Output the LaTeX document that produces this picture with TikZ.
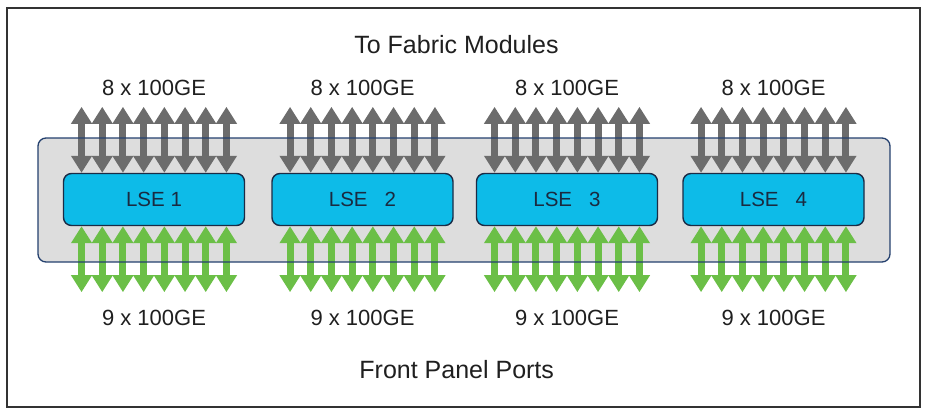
\documentclass[tikz,border=0pt]{standalone}
\usepackage{fontspec}
\setmainfont{Liberation Sans}
\usetikzlibrary{arrows.meta,calc}
\definecolor{framegray}{HTML}{333333}
\definecolor{cardfill}{HTML}{DDDDDD}
\definecolor{cardline}{HTML}{24406E}
\definecolor{lsefill}{HTML}{0DBBE8}
\definecolor{lseline}{HTML}{1B2B45}
\definecolor{lsetext}{HTML}{1A2A40}
\definecolor{arrgray}{HTML}{6C6C6C}
\definecolor{arrgreen}{HTML}{6BBF47}
\tikzset{
  frame/.style={draw=framegray, line width=2pt},
  card/.style={draw=cardline, line width=1.3pt, rounded corners=8pt, minimum width=852pt, minimum height=124pt, inner sep=0pt},
  cardfillonly/.style={fill=cardfill, rounded corners=8pt, minimum width=852pt, minimum height=124pt, inner sep=0pt},
  lse/.style={draw=lseline, fill=lsefill, line width=1.4pt, rounded corners=8pt, minimum width=181pt, minimum height=52pt, inner sep=0pt, text=lsetext, font=\fontsize{20.5}{24}\selectfont},
  fatarrow/.style={line width=7pt, {Triangle[width=20pt,length=17pt]}-{Triangle[width=20pt,length=17pt]}},
  uparrow/.style={fatarrow, draw=arrgray, color=arrgray},
  downarrow/.style={fatarrow, draw=arrgreen, color=arrgreen},
  portlbl/.style={anchor=base, inner sep=0pt, text=black!88, font=\fontsize{22}{26}\selectfont},
  titlelbl/.style={anchor=base, inner sep=0pt, text=black!88, font=\fontsize{25}{30}\selectfont},
}
\begin{document}
\begin{tikzpicture}[x=1pt,y=-1pt]
\useasboundingbox (0,0) rectangle (929,416);
\draw[frame] (7,8) rectangle (920,407);
% card background
\node[cardfillonly] (cardbg) at (464,200) {};
% LSE nodes
\node[lse] (L1) at (154,199.5) {LSE 1};
\node[lse] (L2) at (362.5,199.5) {LSE\ \ \ 2};
\node[lse] (L3) at (567,199.5) {LSE\ \ \ 3};
\node[lse] (L4) at (773.5,199.5) {LSE\ \ \ 4};
% arrows
\foreach \g in {1,2,3,4}{
  \foreach \i in {0,...,7}{
    \pgfmathsetmacro{\dx}{(\i-3.5)*20.7}
    \coordinate (top\g\i) at ($(L\g.north)+(\dx,-66)$);
    \coordinate (bot\g\i) at ($(L\g.south)+(\dx,66)$);
    \draw[uparrow] (top\g\i) -- (L\g.north -| top\g\i);
    \draw[downarrow] (L\g.south -| bot\g\i) -- (bot\g\i);
  }
}
% card outline on top
\node[card] (card) at (464,200) {};
% labels
\node[titlelbl] (title) at (456.5,53) {To Fabric Modules};
\node[titlelbl] (front) at (456.7,378) {Front Panel Ports};
\foreach \g in {1,2,3,4}{
  \node[portlbl] (up\g) at ($(L\g.center)+(0,-104.5)$) {8 x 100GE};
  \node[portlbl] (dn\g) at ($(L\g.center)+(0,125.5)$) {9 x 100GE};
}
\end{tikzpicture}
\end{document}
